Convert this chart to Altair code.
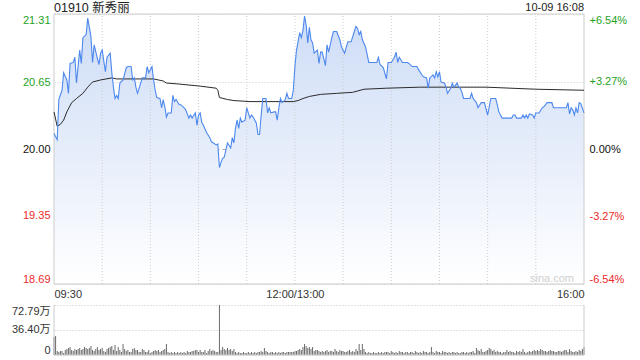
import altair as alt
import pandas as pd

FONT = "Liberation Sans, Arial, Noto Sans CJK SC"
GREEN = "#1fa31f"
RED = "#ee2a2a"
BLACK = "#111111"

TITLE = "01910 新秀丽"
STAMP = "10-09 16:08"
WATERMARK = "sina.com"
PREV_CLOSE = 20.00

# trading minutes since 09:30 (lunch break removed) and last price
price_min = [0, 2, 3, 5, 6, 8, 9, 10, 12, 13, 14, 16, 17, 18, 20, 21, 23, 24, 25, 27,
             28, 29, 30, 32, 33, 35, 36, 37, 38, 39, 40, 41, 43, 45, 46, 48, 49, 50, 51, 52,
             53, 55, 57, 58, 59, 61, 62, 63, 64, 66, 67, 68, 69, 70, 71, 73, 74, 75, 76, 78,
             79, 81, 82, 84, 85, 86, 88, 89, 90, 91, 92, 93, 95, 97, 98, 99, 101, 102, 103, 104,
             105, 106, 107, 108, 110, 111, 112, 113, 114, 115, 116, 117, 119, 120, 122, 123, 124, 126, 127, 128,
             129, 130, 132, 133, 134, 135, 137, 138, 139, 140, 141, 142, 144, 145, 146, 148, 149, 150, 151, 153,
             154, 155, 156, 157, 158, 159, 160, 161, 162, 164, 165,
             166, 167, 169, 170, 171, 173, 174, 176, 178, 179, 181, 182, 183, 185, 187, 188, 189, 190, 191, 192,
             194, 196, 199, 201, 202, 203, 205, 207, 208, 210, 212, 213, 214, 215, 217, 220, 221, 223, 226, 227,
             229, 230, 232, 233, 234, 236, 237, 238, 239, 240, 241, 243, 244, 245, 247, 248, 249, 251, 252, 253,
             254, 255, 257, 259, 260, 261, 263, 264, 266, 267, 268, 270, 271, 272, 273, 275, 276, 277, 279, 282,
             285, 286, 287, 288, 290, 291, 292, 293, 294, 295, 296, 298, 299, 300, 302, 304, 305, 307, 309, 310,
             311, 315, 319, 320, 321, 322, 323, 324, 325, 326, 327, 328, 330]
price_val = [20.15, 20.09, 20.48, 20.57, 20.74, 20.67, 20.54, 20.83, 20.84, 20.89,
             20.64, 20.96, 20.83, 21.08, 21.11, 21.27, 21.09, 20.84, 21.01, 20.88,
             20.82, 20.93, 20.96, 20.75, 20.89, 20.93, 20.74, 20.60, 20.49, 20.52,
             20.49, 20.64, 20.67, 20.79, 20.80, 20.80, 20.67, 20.69, 20.60, 20.54,
             20.59, 20.69, 20.69, 20.80, 20.74, 20.80, 20.67, 20.57, 20.50, 20.49,
             20.40, 20.48, 20.41, 20.31, 20.35, 20.35, 20.52, 20.46, 20.48, 20.43,
             20.43, 20.40, 20.38, 20.30, 20.33, 20.30, 20.35, 20.23, 20.33, 20.35,
             20.26, 20.23, 20.16, 20.11, 20.07, 20.06, 20.04, 20.05, 19.82, 19.87,
             19.91, 19.92, 19.99, 20.06, 20.01, 20.11, 20.06, 20.20, 20.28, 20.20,
             20.30, 20.26, 20.28, 20.40, 20.30, 20.33, 20.31, 20.25, 20.14, 20.14,
             20.33, 20.49, 20.49, 20.35, 20.40, 20.35, 20.36, 20.36, 20.28, 20.40,
             20.49, 20.45, 20.48, 20.54, 20.49, 20.49, 20.57, 20.80, 20.96, 21.13,
             21.08, 21.15, 21.29, 21.20, 21.03, 21.18, 21.06, 21.03, 20.93, 20.96,
             20.83,
             20.94, 20.94, 20.81, 21.01, 20.94, 21.08, 21.14, 21.14, 21.06, 20.99,
             20.93, 20.99, 21.04, 21.04, 21.14, 21.19, 21.17, 21.11, 21.14, 21.06,
             20.99, 20.84, 20.84, 20.84, 20.89, 20.82, 20.79, 20.68, 20.84, 20.84,
             20.89, 20.94, 20.84, 20.89, 20.84, 20.84, 20.83, 20.80, 20.80, 20.77,
             20.72, 20.70, 20.69, 20.59, 20.69, 20.72, 20.69, 20.75, 20.70, 20.75,
             20.65, 20.64, 20.61, 20.54, 20.59, 20.64, 20.60, 20.64, 20.60, 20.59,
             20.55, 20.49, 20.49, 20.49, 20.54, 20.49, 20.45, 20.40, 20.45, 20.45,
             20.45, 20.33, 20.41, 20.49, 20.49, 20.49, 20.43, 20.36, 20.30, 20.30,
             20.30, 20.33, 20.33, 20.30, 20.30, 20.30, 20.33, 20.30, 20.33, 20.30,
             20.34, 20.33, 20.30, 20.35, 20.35, 20.40, 20.41, 20.45, 20.45, 20.45,
             20.40, 20.40, 20.40, 20.45, 20.34, 20.40, 20.38, 20.33, 20.40, 20.35,
             20.45, 20.44, 20.35]

# average (VWAP) line
avg_min = [0, 2, 4, 6, 8, 11, 14, 18, 21, 24, 29, 36, 39, 45, 58, 62, 68, 70, 78, 91,
           101, 102, 103, 108, 112, 122, 132, 149, 152, 155, 159, 166, 176, 186, 193, 207, 228, 269, 300, 330]
avg_val = [20.36, 20.22, 20.24, 20.28, 20.36, 20.45, 20.49, 20.54, 20.60, 20.65,
           20.67, 20.69, 20.68, 20.68, 20.68, 20.68, 20.66, 20.64, 20.63, 20.61,
           20.59, 20.57, 20.50, 20.48, 20.47, 20.46, 20.46, 20.46, 20.47, 20.49,
           20.51, 20.53, 20.54, 20.55, 20.58, 20.59, 20.60, 20.60, 20.58, 20.57]

# volume per minute, in 万 shares (minute 0 .. 330)
vol_wan = [26.2, 27.7, 5.8, 4.4, 5.8, 5.8, 2.9, 7.3, 8.7, 10.2,
           11.6, 7.3, 5.8, 8.7, 7.3, 8.7, 10.2, 7.3, 8.7, 11.6,
           10.2, 8.7, 10.2, 13.1, 7.3, 5.8, 8.7, 11.6, 7.3, 8.7,
           10.2, 5.8, 4.4, 8.7, 10.2, 11.6, 13.1, 7.3, 14.6, 5.8,
           11.6, 7.3, 4.4, 16.0, 8.7, 5.8, 7.3, 4.4, 4.4, 8.7,
           10.2, 7.3, 7.3, 4.4, 4.4, 8.7, 7.3, 4.4, 4.4, 7.3,
           2.9, 4.4, 5.8, 7.3, 5.8, 7.3, 4.4, 5.8, 7.3, 8.7,
           16.0, 4.4, 2.9, 4.4, 2.9, 4.4, 2.9, 4.4, 2.9, 4.4,
           2.9, 4.4, 2.9, 5.8, 4.4, 4.4, 5.8, 5.8, 7.3, 7.3,
           4.4, 7.3, 4.4, 4.4, 7.3, 2.9, 5.8, 8.7, 5.8, 7.3,
           5.8, 4.4, 4.4, 72.79, 7.3, 11.6, 8.7, 7.3, 10.2, 7.3,
           8.7, 5.8, 8.7, 4.4, 2.9, 4.4, 2.9, 2.9, 4.4, 2.9,
           2.9, 4.4, 2.9, 4.4, 2.9, 4.4, 2.9, 4.4, 4.4, 5.8,
           4.4, 10.2, 5.8, 4.4, 2.9, 4.4, 4.4, 2.9, 4.4, 2.9,
           4.4, 2.9, 4.4, 4.4, 2.9, 4.4, 4.4, 4.4, 4.4, 4.4,
           5.8, 5.8, 7.3, 8.7, 7.3, 11.6, 16.0, 13.1, 10.2, 11.6,
           8.7, 11.6, 5.8, 7.3, 7.3, 5.8, 4.4, 5.8, 4.4, 5.8,
           7.3, 4.4, 5.8, 5.8, 4.4, 8.7, 5.8, 4.4, 7.3, 5.8,
           5.8, 4.4, 4.4, 5.8, 7.3, 4.4, 5.8, 4.4, 8.7, 5.8,
           16.0, 7.3, 16.0, 8.7, 4.4, 2.9, 4.4, 2.9, 2.9, 4.4,
           2.9, 2.9, 4.4, 2.9, 4.4, 2.9, 4.4, 4.4, 4.4, 2.9,
           5.8, 4.4, 2.9, 4.4, 2.9, 5.8, 4.4, 4.4, 2.9, 4.4,
           4.4, 2.9, 4.4, 4.4, 2.9, 5.8, 4.4, 2.9, 4.4, 2.9,
           5.8, 4.4, 4.4, 2.9, 4.4, 11.6, 4.4, 2.9, 5.8, 4.4,
           4.4, 2.9, 5.8, 4.4, 4.4, 2.9, 4.4, 2.9, 4.4, 4.4,
           2.9, 4.4, 2.9, 2.9, 4.4, 4.4, 2.9, 4.4, 2.9, 4.4,
           4.4, 5.8, 2.9, 10.2, 7.3, 5.8, 8.7, 4.4, 4.4, 5.8,
           7.3, 10.2, 8.7, 5.8, 7.3, 4.4, 5.8, 4.4, 4.4, 2.9,
           4.4, 4.4, 7.3, 4.4, 5.8, 4.4, 4.4, 2.9, 5.8, 4.4,
           5.8, 4.4, 8.7, 4.4, 2.9, 4.4, 5.8, 4.4, 5.8, 7.3,
           5.8, 7.3, 5.8, 8.7, 7.3, 5.8, 5.8, 4.4, 5.8, 7.3,
           5.8, 5.8, 4.4, 4.4, 5.8, 5.8, 4.4, 5.8, 7.3, 7.3,
           4.4, 8.7, 5.8, 4.4, 4.4, 5.8, 4.4, 7.3, 5.8, 8.7,
           11.6]
vol_min = list(range(len(vol_wan)))

price_ticks = [18.69, 19.35, 20.00, 20.65, 21.31]
pct_ticks = [-6.54, -3.27, 0.00, 3.27, 6.54]
vol_ticks = [0, 36.40, 72.79]
time_tick_min = [0, 150, 330]
time_tick_lbl = ["09:30", "12:00/13:00", "16:00"]
grid_min = [30, 60, 90, 120, 150, 180, 210, 240, 270, 300]
session = [0, 330]

p_lo, p_hi = price_ticks[0], price_ticks[-1]
v_hi = vol_ticks[-1]

# ---- data frames
price_df = pd.DataFrame({"m": price_min, "p": price_val})
price_df["base"] = p_lo
price_df["pct"] = (price_df["p"] - PREV_CLOSE) / PREV_CLOSE * 100
avg_df = pd.DataFrame({"m": avg_min, "v": avg_val})
vol_df = pd.DataFrame({"m": vol_min, "vol": vol_wan})
vol_df["zero"] = 0.0
grid_df = pd.DataFrame({"m": grid_min, "lo": p_lo, "hi": p_hi})
frame_df = pd.DataFrame({"m": [session[0]], "m2": [session[1]], "lo": [p_lo], "hi": [p_hi]})
vframe_df = pd.DataFrame({"m": [session[0], session[1], session[0]],
                          "m2": [session[0], session[1], session[1]],
                          "lo": [0.0, 0.0, 0.0], "hi": [v_hi, v_hi, 0.0]})

# ---- scales & axes
H_PRICE = 270
H_TOTAL = 341
H_VOL_TOP = 291

label_expr = " : ".join(
    f"datum.value == {m} ? '{l}'" for m, l in zip(time_tick_min, time_tick_lbl)
) + " : ''"

xscale = alt.Scale(domain=session, nice=False, zero=False)
xaxis = alt.Axis(values=time_tick_min, labelExpr=label_expr, title=None, orient="bottom",
                 offset=H_PRICE - H_TOTAL, grid=False, ticks=False, tickSize=0, domain=False,
                 labelFlush=True, labelPadding=4, labelFontSize=11, labelColor="#333333",
                 labelFont=FONT, labelOverlap=False)


def X(field="m"):
    return alt.X(f"{field}:Q", scale=xscale, axis=xaxis)


pscale = alt.Scale(domain=[p_lo, p_hi], range=[H_PRICE, 0], nice=False, zero=False)
paxis = alt.Axis(
    orient="left", values=price_ticks, format=".2f", title=None, ticks=False, tickSize=0,
    domain=False, labelFlush=True, labelPadding=4, labelFontSize=11, labelFont=FONT,
    grid=True,
    gridColor={"condition": {"test": f"abs(datum.value - {PREV_CLOSE}) < 0.001", "value": "#a8a8a8"},
               "value": "#cccccc"},
    gridDash={"condition": {"test": f"abs(datum.value - {PREV_CLOSE}) < 0.001", "value": [4, 3]},
              "value": [1, 2]},
    labelColor={"condition": [{"test": f"datum.value > {PREV_CLOSE} + 0.001", "value": GREEN},
                              {"test": f"datum.value < {PREV_CLOSE} - 0.001", "value": RED}],
                "value": BLACK},
)


def PY(field):
    return alt.Y(f"{field}:Q", scale=pscale, axis=paxis)


area = alt.Chart(price_df).mark_area(
    color=alt.Gradient(gradient="linear",
                       stops=[alt.GradientStop(color="#cddcf6", offset=0),
                              alt.GradientStop(color="#ffffff", offset=1)],
                       x1=1, x2=1, y1=0, y2=1),
    interpolate="linear",
).encode(x=X(), y=PY("p"), y2="base")

vgrid = alt.Chart(grid_df).mark_rule(color="#cccccc", strokeDash=[1, 2], strokeWidth=1).encode(
    x=X(), y=PY("lo"), y2="hi")

frame = alt.Chart(frame_df).mark_rect(fillOpacity=0, stroke="#cccccc", strokeWidth=1).encode(
    x=X(), x2="m2", y=PY("lo"), y2="hi")

pline = alt.Chart(price_df).mark_line(color="#4d88ee", strokeWidth=1.1).encode(x=X(), y=PY("p"))
aline = alt.Chart(avg_df).mark_line(color="#2b2b2b", strokeWidth=1).encode(x=X(), y=PY("v"))

price_layer = alt.layer(area, vgrid, frame, aline, pline)

pct_axis = alt.Axis(
    orient="right", values=pct_ticks, title=None, ticks=False, tickSize=0, domain=False,
    grid=False, labelFlush=True, labelPadding=5, labelFontSize=11, labelFont=FONT,
    labelExpr=("(datum.value > 0.001 ? '+' : datum.value < -0.001 ? '-' : '')"
               " + format(abs(datum.value), '.2f') + '%'"),
    labelColor={"condition": [{"test": "datum.value > 0.001", "value": GREEN},
                              {"test": "datum.value < -0.001", "value": RED}],
                "value": BLACK},
)
pct_layer = alt.Chart(price_df).mark_line(opacity=0).encode(
    x=X(),
    y=alt.Y("pct:Q", scale=alt.Scale(domain=[pct_ticks[0], pct_ticks[-1]], range=[H_PRICE, 0],
                                     nice=False, zero=False), axis=pct_axis))

vscale = alt.Scale(domain=[0, v_hi], range=[H_TOTAL, H_VOL_TOP], nice=False, zero=False)
vaxis = alt.Axis(
    orient="left", values=vol_ticks, title=None, ticks=False, tickSize=0, domain=False,
    labelFlush=True, labelPadding=4, labelFontSize=11, labelFont=FONT, labelColor="#333333",
    labelExpr="datum.value == 0 ? '0' : format(datum.value, '.2f') + '万'",
    grid=True, gridDash=[1, 2], gridColor="#c4c4c4",
)
vbars = alt.Chart(vol_df).mark_rule(color="#6a6a6a", strokeWidth=1).encode(
    x=X(), y=alt.Y("vol:Q", scale=vscale, axis=vaxis), y2="zero")
vframe = alt.Chart(vframe_df).mark_rule(color="#cccccc", strokeWidth=1).encode(
    x=X(), x2="m2", y=alt.Y("lo:Q", scale=vscale, axis=vaxis), y2="hi")
vol_layer = alt.layer(vbars, vframe)

title_t = alt.Chart(pd.DataFrame({"t": [TITLE]})).mark_text(
    align="left", baseline="middle", fontSize=12.5, font=FONT, color="#222222").encode(
    text="t:N", x=alt.value(0), y=alt.value(-6))
stamp_t = alt.Chart(pd.DataFrame({"t": [STAMP]})).mark_text(
    align="right", baseline="middle", fontSize=11, font=FONT, color="#222222").encode(
    text="t:N", x=alt.value(530), y=alt.value(-6))
wm_t = alt.Chart(pd.DataFrame({"t": [WATERMARK]})).mark_text(
    align="center", baseline="middle", fontSize=11, font=FONT, color="#cfcfcf").encode(
    text="t:N", x=alt.value(498), y=alt.value(265))

chart = alt.layer(price_layer, pct_layer, vol_layer, wm_t, title_t, stamp_t).resolve_scale(
    y="independent"
).properties(
    width=530, height=H_TOTAL,
    padding={"left": 54, "top": 14, "right": 56, "bottom": 5},
    autosize=alt.AutoSizeParams(type="none"),
    background="#ffffff",
).configure_view(stroke=None)

chart.save("out.html", embed_options={"renderer": "svg", "actions": False})
